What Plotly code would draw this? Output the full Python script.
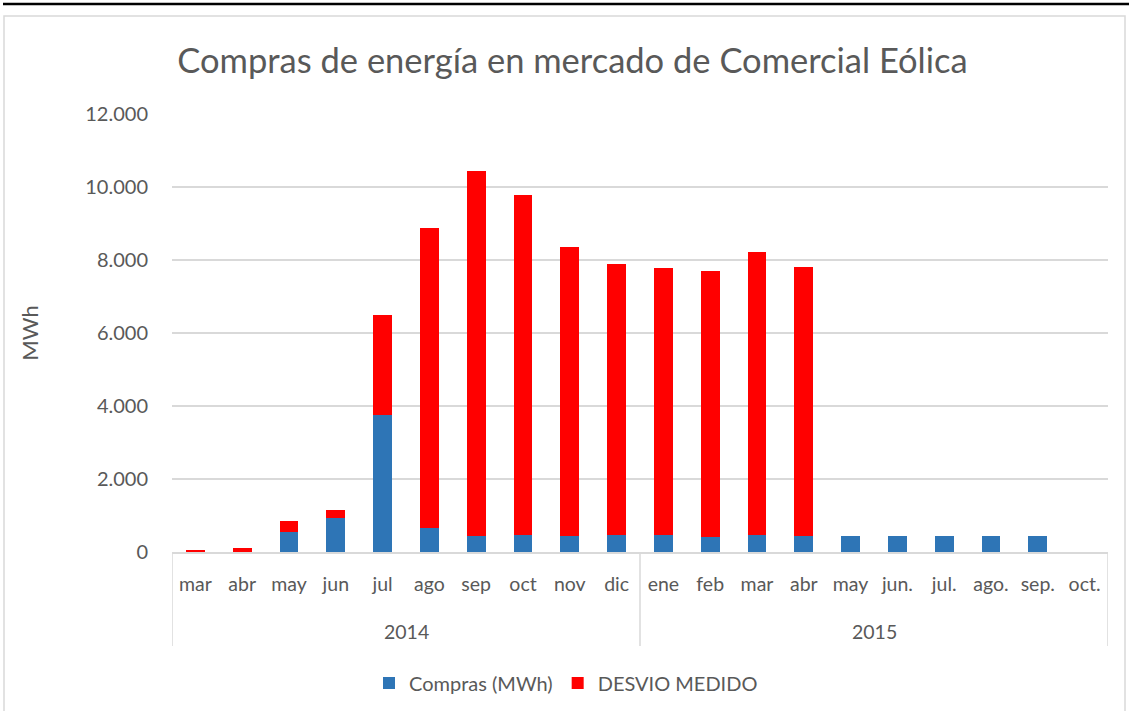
import plotly.graph_objects as go

years = ["2014", "2015"]
year_months = [10, 10]
months = ["mar", "abr", "may", "jun", "jul", "ago", "sep", "oct", "nov", "dic",
          "ene", "feb", "mar", "abr", "may", "jun.", "jul.", "ago.", "sep.", "oct."]
compras = [0, 0, 560, 930, 3750, 670, 440, 470, 450, 470,
           470, 420, 470, 450, 450, 450, 450, 450, 450, 0]
desvio = [50, 110, 290, 220, 2750, 8220, 9990, 9320, 7900, 7430,
          7300, 7290, 7760, 7360, 0, 0, 0, 0, 0, 0]

TXT = "#595959"
GRID = "#d9d9d9"
FONT = "Lato, 'Open Sans', sans-serif"

xidx = list(range(len(months)))

fig = go.Figure()
fig.add_trace(go.Bar(x=xidx, y=compras, name="Compras (MWh)",
                     marker=dict(color="#2e75b6", line=dict(width=0))))
fig.add_trace(go.Bar(x=xidx, y=desvio, name="DESVIO MEDIDO",
                     marker=dict(color="#ff0000", line=dict(width=0))))

W, H = 1129, 711
L, R, T, B = 172, 21, 114, 159
pw, ph = W - L - R, H - T - B

def px(x):
    return (x - L) / pw

def py(y):
    return (H - B - y) / ph

shapes = [
    dict(type="rect", xref="paper", yref="paper", x0=px(4), x1=px(1125),
         y0=py(16), y1=py(712), line=dict(color=GRID, width=1.5),
         fillcolor="rgba(0,0,0,0)", layer="below"),
    dict(type="line", xref="paper", yref="paper", x0=px(3), x1=px(1129),
         y0=py(4), y1=py(4), line=dict(color="black", width=2.5)),
]
annotations = []
start = 0
bounds = [-0.5]
for yr, n in zip(years, year_months):
    annotations.append(dict(text=yr, xref="x", yref="paper", x=start + (n - 1) / 2,
                            y=py(631), xanchor="center", yanchor="middle", showarrow=False,
                            font=dict(size=19.5, color=TXT)))
    start += n
    bounds.append(start - 0.5)
for b in bounds:
    shapes.append(dict(type="line", xref="x", yref="paper", x0=b, x1=b, y0=0, y1=py(646),
                       line=dict(color=GRID, width=1.5)))

fig.update_layout(
    barmode="stack",
    bargap=0.6,
    width=W, height=H,
    margin=dict(l=L, r=R, t=T, b=B, autoexpand=False),
    paper_bgcolor="white", plot_bgcolor="white",
    separators=",.",
    font=dict(family=FONT, color=TXT, size=20),
    title=dict(text="Compras de energía en mercado de Comercial Eólica",
               x=(177 + 968) / 2 / W, xanchor="center", y=1 - 61 / H, yanchor="middle",
               font=dict(size=34.5, color=TXT, family=FONT)),
    legend=dict(orientation="h", x=px(566), xanchor="center", y=py(683), yanchor="middle",
                font=dict(size=20, color=TXT), itemwidth=30, traceorder="normal"),
    xaxis=dict(range=[-0.5, len(months) - 0.5], tickmode="array", tickvals=xidx,
               ticktext=months, showgrid=False, showline=True, linecolor=GRID,
               linewidth=1.5, ticks="", tickangle=0, tickfont=dict(size=19.5, color=TXT),
               ticklabelstandoff=14, zeroline=False),
    yaxis=dict(range=[0, 12000], dtick=2000, tickformat=",d", showgrid=True,
               gridcolor=GRID, gridwidth=1.5, zeroline=False, showline=False,
               ticks="", tickfont=dict(size=20, color=TXT), ticklabelstandoff=23,
               title=dict(text="MWh", font=dict(size=22, color=TXT), standoff=40)),
    shapes=shapes,
    annotations=annotations,
)

fig.write_html("out.html", config={"displayModeBar": False},
               post_script="document.body.style.margin='0';document.body.style.padding='0';")
